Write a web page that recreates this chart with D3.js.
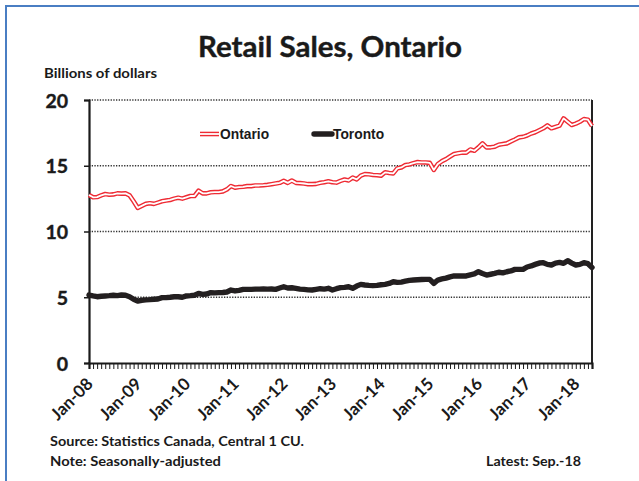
<!DOCTYPE html>
<html>
<head>
<meta charset="utf-8">
<script src="https://cdn.jsdelivr.net/npm/d3@7"></script>
<style>
  html, body { margin: 0; padding: 0; background: #fff; }
  svg { display: block; }
  .cal { font-family: Lato, "Open Sans", sans-serif; font-weight: 700; fill: #1a1a1a; }
  .arial { font-family: "Liberation Sans", Arial, sans-serif; font-weight: 700; fill: #1a1a1a; }
</style>
</head>
<body>
<script>
// Monthly retail sales, billions of dollars (seasonally adjusted), Jan-08 onward
const ontario = [
  12.78, 12.60, 12.62, 12.75, 12.85, 12.80, 12.82, 12.90, 12.88, 12.90, 12.75, 12.30,
  11.80, 11.95, 12.10, 12.15, 12.10, 12.20, 12.30, 12.35, 12.40, 12.50, 12.57, 12.50,
  12.60, 12.70, 12.70, 13.10, 12.90, 12.90, 12.98, 13.00, 13.00, 13.05, 13.20, 13.46,
  13.33, 13.38, 13.40, 13.45, 13.45, 13.50, 13.50, 13.52, 13.55, 13.60, 13.65, 13.70,
  13.85, 13.70, 13.87, 13.70, 13.68, 13.65, 13.60, 13.60, 13.62, 13.70, 13.75, 13.82,
  13.75, 13.72, 13.85, 13.95, 13.88, 14.10, 13.96, 14.25, 14.37, 14.35, 14.30, 14.28,
  14.25, 14.50, 14.45, 14.42, 14.80, 14.87, 15.05, 15.10, 15.20, 15.28, 15.25, 15.25,
  15.22, 14.68, 15.13, 15.35, 15.50, 15.70, 15.89, 15.95, 16.00, 16.00, 16.24, 16.14,
  16.40, 16.70, 16.40, 16.40, 16.45, 16.60, 16.65, 16.70, 16.85, 17.00, 17.16, 17.20,
  17.30, 17.45, 17.55, 17.70, 17.85, 18.07, 17.85, 17.95, 18.05, 18.60, 18.35, 18.10,
  18.20, 18.35, 18.55, 18.50, 18.02
];
const toronto = [
  5.17, 5.10, 5.04, 5.08, 5.10, 5.12, 5.15, 5.12, 5.17, 5.15, 5.04, 4.85,
  4.71, 4.77, 4.80, 4.82, 4.85, 4.87, 4.97, 4.97, 5.00, 5.04, 5.04, 5.00,
  5.10, 5.12, 5.15, 5.29, 5.22, 5.25, 5.35, 5.33, 5.35, 5.36, 5.40, 5.55,
  5.48, 5.52, 5.60, 5.60, 5.60, 5.62, 5.62, 5.63, 5.62, 5.63, 5.60, 5.70,
  5.80, 5.70, 5.72, 5.68, 5.62, 5.60, 5.56, 5.55, 5.60, 5.65, 5.62, 5.68,
  5.55, 5.65, 5.73, 5.75, 5.80, 5.68, 5.85, 5.98, 5.93, 5.90, 5.88, 5.90,
  5.95, 5.98, 6.05, 6.18, 6.13, 6.15, 6.22, 6.28, 6.31, 6.33, 6.35, 6.36,
  6.36, 6.06, 6.31, 6.39, 6.45, 6.55, 6.62, 6.62, 6.62, 6.62, 6.70, 6.77,
  6.94, 6.80, 6.69, 6.75, 6.81, 6.90, 6.85, 6.94, 7.00, 7.12, 7.12, 7.12,
  7.30, 7.38, 7.50, 7.60, 7.63, 7.50, 7.45, 7.60, 7.65, 7.58, 7.78, 7.60,
  7.45, 7.50, 7.63, 7.55, 7.27
];
const yTicks = [0, 5, 10, 15, 20];
const xTickLabels = ["Jan-08", "Jan-09", "Jan-10", "Jan-11", "Jan-12", "Jan-13",
                     "Jan-14", "Jan-15", "Jan-16", "Jan-17", "Jan-18"];
const seriesNames = ["Ontario", "Toronto"];

// Month categories ("Jan-08", "Feb-08", ...) for every data point
const monthNames = ["Jan","Feb","Mar","Apr","May","Jun","Jul","Aug","Sep","Oct","Nov","Dec"];
const months = ontario.map((_, i) =>
  monthNames[i % 12] + "-" + String(8 + Math.floor(i / 12)).padStart(2, "0"));

const W = 639, H = 481;
const plot = { left: 89, right: 592, top: 100, bottom: 363 };

const svg = d3.select("body").append("svg").attr("width", W).attr("height", H);

// Outer frame (runs off the right and bottom edges)
svg.append("rect")
  .attr("x", 6).attr("y", 6).attr("width", 700).attr("height", 600)
  .attr("fill", "none").attr("stroke", "#4a7ec3").attr("stroke-width", 2);

const x = d3.scalePoint().domain(months).range([plot.left, plot.right]);
const y = d3.scaleLinear().domain([0, 20]).range([plot.bottom, plot.top]);

// Title and units
svg.append("text").attr("class", "cal")
  .attr("x", 330).attr("y", 57).attr("text-anchor", "middle")
  .attr("font-size", 28).attr("textLength", 264).attr("lengthAdjust", "spacingAndGlyphs")
  .attr("stroke", "#1a1a1a").attr("stroke-width", 0.4)
  .text("Retail Sales, Ontario");
svg.append("text").attr("class", "cal")
  .attr("x", 44).attr("y", 78).attr("font-size", 12.5)
  .attr("textLength", 113).attr("lengthAdjust", "spacingAndGlyphs")
  .text("Billions of dollars");

// Dotted horizontal gridlines
svg.append("g").selectAll("line")
  .data(yTicks.filter(d => d > 0))
  .join("line")
  .attr("x1", plot.left).attr("x2", plot.right)
  .attr("y1", d => y(d)).attr("y2", d => y(d))
  .attr("stroke", "#333").attr("stroke-width", 1.3)
  .attr("stroke-dasharray", "1.3,1.4");

// Right edge of plot area
svg.append("line")
  .attr("x1", plot.right).attr("x2", plot.right)
  .attr("y1", plot.top).attr("y2", plot.bottom)
  .attr("stroke", "#222").attr("stroke-width", 2);

// Y axis
const yAxis = svg.append("g")
  .attr("transform", `translate(${plot.left},0)`)
  .call(d3.axisLeft(y).tickValues(yTicks).tickSize(5).tickPadding(16).tickFormat(d3.format("d")));
yAxis.select(".domain").attr("stroke", "#1a1a1a").attr("stroke-width", 2.2);
yAxis.selectAll(".tick line").attr("stroke", "#1a1a1a").attr("stroke-width", 1.5);
yAxis.selectAll(".tick text").attr("class", "cal").attr("font-size", 19.5)
  .attr("dy", "0.36em").attr("font-family", null)
  .attr("stroke", "#1a1a1a").attr("stroke-width", 0.4);

// X axis with monthly tick marks
const xAxis = svg.append("g")
  .attr("transform", `translate(0,${plot.bottom})`)
  .call(d3.axisBottom(x).tickSize(6).tickFormat(""));
xAxis.select(".domain").attr("stroke", "#1a1a1a").attr("stroke-width", 2.2);
xAxis.selectAll(".tick line").attr("stroke", "#1a1a1a").attr("stroke-width", 1);

// Rotated year labels
svg.append("g").selectAll("text")
  .data(xTickLabels)
  .join("text")
  .attr("class", "cal")
  .attr("font-size", 17)
  .attr("text-anchor", "end")
  .attr("transform", d => `translate(${x(d) + 5},${plot.bottom + 22}) rotate(-45)`)
  .text(d => d);

// Series lines
const line = d3.line().x((d, i) => x(months[i])).y(d => y(d));

svg.append("path").datum(toronto)
  .attr("d", line).attr("fill", "none")
  .attr("stroke", "#231f20").attr("stroke-width", 5.4)
  .attr("stroke-linejoin", "round").attr("stroke-linecap", "round");

svg.append("path").datum(ontario)
  .attr("d", line).attr("fill", "none")
  .attr("stroke", "#ee2b34").attr("stroke-width", 4.6)
  .attr("stroke-linejoin", "round");
svg.append("path").datum(ontario)
  .attr("d", line).attr("fill", "none")
  .attr("stroke", "#ffffff").attr("stroke-width", 1.8)
  .attr("stroke-linejoin", "round");

// Legend
const legend = svg.append("g");
const lg = [
  { name: seriesNames[0], x0: 200, x1: 219, tx: 220 },
  { name: seriesNames[1], x0: 314, x1: 332, tx: 333 }
];
legend.append("line").attr("x1", lg[0].x0).attr("x2", lg[0].x1).attr("y1", 134).attr("y2", 134)
  .attr("stroke", "#ee2b34").attr("stroke-width", 4.6);
legend.append("line").attr("x1", lg[0].x0).attr("x2", lg[0].x1).attr("y1", 134).attr("y2", 134)
  .attr("stroke", "#fff").attr("stroke-width", 1.8);
legend.append("line").attr("x1", lg[1].x0).attr("x2", lg[1].x1).attr("y1", 134).attr("y2", 134)
  .attr("stroke", "#231f20").attr("stroke-width", 5.4).attr("stroke-linecap", "round");
legend.selectAll("text").data(lg).join("text")
  .attr("class", "arial").attr("font-size", 13.8)
  .attr("x", d => d.tx).attr("y", 139)
  .text(d => d.name);

// Footnotes
const notes = [
  { text: "Source: Statistics Canada, Central 1 CU.", x: 50, y: 446, len: 254, anchor: "start" },
  { text: "Note: Seasonally-adjusted", x: 50, y: 466, len: 171, anchor: "start" },
  { text: "Latest: Sep.-18", x: 581, y: 466, len: 95, anchor: "end" }
];
svg.append("g").selectAll("text").data(notes).join("text")
  .attr("class", "cal").attr("font-size", 14)
  .attr("x", d => d.anchor === "end" ? d.x - d.len : d.x).attr("y", d => d.y)
  .attr("textLength", d => d.len).attr("lengthAdjust", "spacingAndGlyphs")
  .text(d => d.text);
</script>
</body>
</html>
